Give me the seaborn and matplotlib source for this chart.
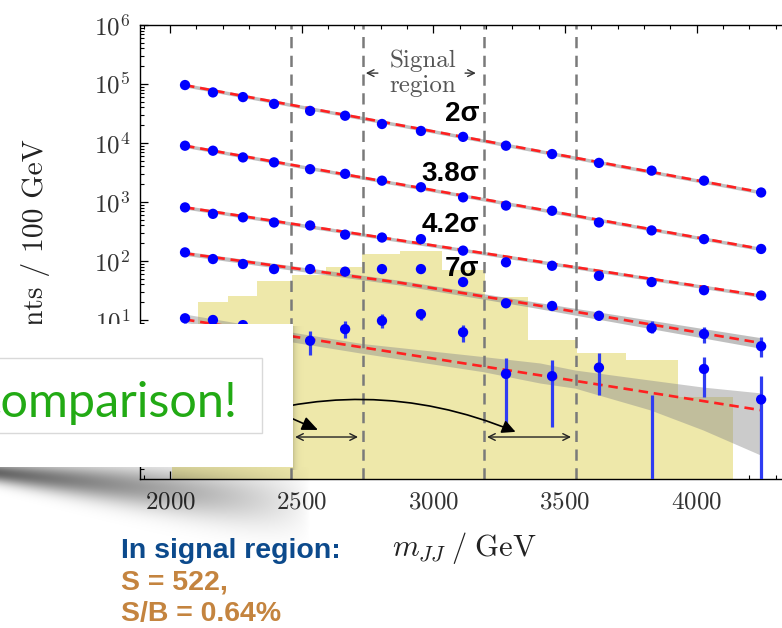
import numpy as np
import pandas as pd
import matplotlib
matplotlib.use("Agg")
import matplotlib.pyplot as plt
import seaborn as sns
from matplotlib.patches import Rectangle, FancyArrowPatch
from matplotlib.ticker import MultipleLocator, LogLocator, NullFormatter, LogFormatterSciNotation

# ---------------------------------------------------------------- data
# dijet invariant-mass bin centres (GeV)
mjj = [2057, 2163, 2277, 2395, 2532, 2665, 2805, 2953, 3113, 3276, 3451, 3629, 3829, 4028, 4245]

# injected signal template (stepped histogram)
sig_edges = [2008, 2106, 2220, 2330, 2463, 2592, 2729, 2874, 3033, 3196, 3360, 3546, 3732, 3929, 4138]
sig_counts = [6, 20.5, 26, 45, 57, 79, 134, 145, 70, 25, 4.6, 2.8, 2.1, 0.49]

# sideband / signal-region boundaries
region_edges = [2458, 2733, 3193, 3540]

# pseudo-data for the different signal strengths
ev_2sig = [9.6e4, 7.2e4, 6.0e4, 4.6e4, 3.5e4, 2.9e4, 2.1e4, 1.6e4, 1.27e4, 9.0e3, 6.5e3, 4.6e3, 3.4e3, 2.3e3, 1.45e3]
ev_38sig = [9.0e3, 7.4e3, 5.7e3, 4.7e3, 3.6e3, 3.0e3, 2.3e3, 1.78e3, 1.2e3, 870, 710, 450, 330, 235, 160]
ev_42sig = [810, 630, 550, 450, 400, 280, 250, 235, 150, 95, 83, 56, 44, 32, 26]
ev_7sig = [140, 108, 89, 73, 73, 66, 73, 73, 44, 19.2, 17.3, 11.8, 7.3, 5.8, 3.6]
ev_7sig_lo = [140, 108, 89, 73, 73, 66, 73, 73, 44, 19.2, 17.3, 10.2, 5.96, 4.07, 2.39]
ev_7sig_hi = [140, 108, 89, 73, 73, 66, 73, 73, 44, 19.2, 17.3, 13.8, 9.7, 7.7, 5.2]
ev_low = [10.7, 10.0, 8.2, 7.0, 4.45, 7.0, 9.7, 12.6, 6.2, 1.22, 1.12, 1.56, 0, 1.48, 0.45]
ev_low_lo = [9.0, 8.5, 8.2, 7.0, 2.55, 4.9, 7.2, 10.0, 4.3, 0.166, 0.155, 0.54, 0, 0.50, 0]
ev_low_hi = [12.5, 12.0, 8.2, 7.0, 6.6, 9.7, 12.6, 15.5, 8.2, 2.24, 2.1, 2.73, 0.536, 2.39, 1.12]

# background fits evaluated at a few masses
fit_x = [2057, 2873, 3367, 4245]
fit_2sig = [9.55e4, 2.01e4, 7.8e3, 1.46e3]
fit_38sig = [9.0e3, 2.0e3, 805, 160]
fit_42sig = [813, 224, 103, 25.8]
fit_7sig = [135, 42.9, 18.6, 4.07]
fit_low = [10.2, 2.73, 1.23, 0.296]
# fit uncertainty (half width in dex)
fit_hw_narrow = [0.03, 0.03, 0.03, 0.03]
fit_hw_7sig = [0.035, 0.04, 0.05, 0.09]
# wider uncertainty band of the lowest fit
band_x = [2057, 2456, 2729, 3189, 3405, 3538, 3823, 4024, 4245]
band_low_hi = [12.6, 6.3, 4.0, 2.4, 1.87, 1.42, 0.96, 0.73, 0.58]
band_low_lo = [9.1, 4.3, 2.73, 1.33, 0.855, 0.70, 0.30, 0.137, 0.051]

sigma_labels = ["2σ", "3.8σ", "4.2σ", "7σ"]
sigma_label_y = [3.1e4, 2.99e3, 4.07e2, 73]

# ---------------------------------------------------------------- style
sns.set_theme(style="ticks")
plt.rcParams.update({
    "font.family": ["cmr10", "DejaVu Serif"],
    "mathtext.fontset": "cm",
    "axes.formatter.use_mathtext": True,
    "axes.unicode_minus": False,
    "xtick.direction": "in",
    "ytick.direction": "in",
    "xtick.top": True,
    "ytick.right": False,
    "xtick.major.size": 6, "ytick.major.size": 6,
    "xtick.minor.size": 3, "ytick.minor.size": 3,
    "xtick.major.width": 0.9, "ytick.major.width": 0.9,
    "xtick.minor.width": 0.8, "ytick.minor.width": 0.8,
    "xtick.color": "black", "ytick.color": "black",
    "xtick.labelcolor": "#333333", "ytick.labelcolor": "#333333",
    "axes.edgecolor": "black",
    "axes.linewidth": 1.0,
})

W_PX, H_PX = 782, 628
fig = plt.figure(figsize=(W_PX / 100, H_PX / 100), dpi=100)
fig.patch.set_facecolor("white")
ax = fig.add_axes([140 / W_PX, 149 / H_PX, 660 / W_PX, 454 / H_PX])
ax.set_facecolor("white")
ax.set_yscale("log")
ax.set_xlim(1886, 4392.6)
ax.set_ylim(0.0202, 1e6)
ax.spines["right"].set_visible(False)

# signal template
ax.stairs(sig_counts, sig_edges, baseline=1e-3, fill=True, color="#eee8aa", zorder=1)

# uncertainty bands
band_grey = (0.55, 0.55, 0.55)
for vals, hw in [(fit_2sig, fit_hw_narrow), (fit_38sig, fit_hw_narrow),
                 (fit_42sig, fit_hw_narrow), (fit_7sig, fit_hw_7sig)]:
    v = np.array(vals)
    h = np.array(hw)
    ax.fill_between(fit_x, v * 10 ** (-h), v * 10 ** h, color=band_grey, alpha=0.55,
                    lw=0, zorder=2)
ax.fill_between(band_x, band_low_lo, band_low_hi, color=band_grey, alpha=0.45, lw=0, zorder=2)

# region boundaries
for e in region_edges:
    ax.axvline(e, color="#7a7a7a", lw=1.8, linestyle=(0, (4.5, 3.0)), zorder=2.5)

# fits
for vals in [fit_2sig, fit_38sig, fit_42sig, fit_7sig, fit_low]:
    sns.lineplot(x=fit_x, y=vals, ax=ax, color="#ff2020", lw=1.9,
                 linestyle=(0, (3.6, 2.2)), zorder=3)

# error bars
for vals, lo, hi in [(ev_7sig, ev_7sig_lo, ev_7sig_hi), (ev_low, ev_low_lo, ev_low_hi)]:
    v = np.array(vals, dtype=float)
    yerr = [v - np.array(lo), np.array(hi) - v]
    ax.errorbar(mjj, v, yerr=yerr, fmt="none", ecolor="#2f3cf2", elinewidth=2.3,
                capsize=0, zorder=3.5)

# data points
for vals in [ev_2sig, ev_38sig, ev_42sig, ev_7sig, ev_low]:
    df = pd.DataFrame({"mjj": mjj, "events": vals})
    df = df[df["events"] > 0]
    sns.scatterplot(data=df, x="mjj", y="events", ax=ax, color="#0000ff", s=55,
                    edgecolor="none", linewidth=0, zorder=4)

# ticks
sci = LogFormatterSciNotation()


def decade_label(v, pos):
    # decades below ten sit under the inset panel
    return sci(v, pos) if v >= 10 else ""


ax.xaxis.set_major_locator(MultipleLocator(500))
ax.xaxis.set_minor_locator(MultipleLocator(100))
ax.yaxis.set_major_locator(LogLocator(base=10, numticks=20))
ax.yaxis.set_major_formatter(plt.FuncFormatter(decade_label))
ax.yaxis.set_minor_locator(LogLocator(base=10, subs=np.arange(2, 10), numticks=20))
ax.yaxis.set_minor_formatter(NullFormatter())
ax.tick_params(axis="both", which="major", labelsize=18)
ax.tick_params(axis="x", which="major", pad=9)
ax.tick_params(axis="y", which="major", pad=7)

ax.set_xlabel(r"$m_{JJ}\;/\;\mathrm{GeV}$", fontsize=22, color="#222222")
ax.xaxis.set_label_coords(0.492, -0.112)
ax.set_ylabel("Events / 100 GeV", fontsize=21.3, color="#222222")
ax.yaxis.set_label_coords(-0.136, 0.489)

# signal region caption
ax.text(2961, 1.53e5, "Signal\nregion", ha="center", va="center", fontsize=18,
        color="#555555", linespacing=1.2, zorder=5)
ax.annotate("", xy=(2733, 1.53e5), xytext=(2800, 1.53e5),
            arrowprops=dict(arrowstyle="->", color="#333333", lw=1.0), zorder=5)
ax.annotate("", xy=(3172, 1.53e5), xytext=(3110, 1.53e5),
            arrowprops=dict(arrowstyle="->", color="#333333", lw=1.0), zorder=5)

# significance labels
for lab, yv in zip(sigma_labels, sigma_label_y):
    ax.text(3175, yv, lab, ha="right", va="center", fontsize=20, fontweight="bold",
            family=["Liberation Sans", "DejaVu Sans"], color="black", zorder=6)

# sideband arrows
for x0, x1 in [(2475, 2714), (3204, 3523)]:
    ax.annotate("", xy=(x1, 0.104), xytext=(x0, 0.104),
                arrowprops=dict(arrowstyle="<->", color="#222222", lw=1.0,
                                shrinkA=0, shrinkB=0), zorder=5)
arc = FancyArrowPatch((2152, 0.148), (3322, 0.122), connectionstyle="arc3,rad=-0.2",
                      arrowstyle="-|>,head_length=8,head_width=4", color="black",
                      lw=1.2, mutation_scale=1, zorder=5)
ax.add_patch(arc)
ax.annotate("", xy=(2562, 0.137), xytext=(2304, 0.44),
            arrowprops=dict(arrowstyle="-|>,head_length=0.8,head_width=0.35",
                            color="black", lw=1.2, shrinkA=0, shrinkB=0), zorder=5)

# ---------------------------------------------------------------- overlay panel
ov = fig.add_axes([0, 0, 1, 1], zorder=10)
ov.set_xlim(0, W_PX)
ov.set_ylim(H_PX, 0)
ov.axis("off")
ov.patch.set_alpha(0)

yy, xx = np.mgrid[320:550, 0:340] + 0.5
yc = 473 + 0.10 * xx
sg = 7 + 0.05 * xx
amp = 0.60 * np.clip(1 - xx / 310, 0, 1) ** 0.7
alpha = amp * np.exp(-0.5 * ((yy - yc) / sg) ** 2)
alpha = np.where(yy < 467, 0, alpha)
side = 0.18 * np.exp(-(xx - 293) / 3.0) * ((xx >= 293) & (yy > 326) & (yy < 470))
alpha = np.maximum(alpha, side)
rgba = np.zeros(alpha.shape + (4,))
rgba[..., 3] = alpha
ov.imshow(rgba, extent=(0, 340, 550, 320), interpolation="bilinear", aspect="auto", zorder=1)
ov.set_xlim(0, W_PX)
ov.set_ylim(H_PX, 0)

ov.add_patch(Rectangle((-10, 324), 303, 143, facecolor="white", edgecolor="none", zorder=2))
ov.add_patch(Rectangle((-10, 358), 272, 75, facecolor="white", edgecolor="#d9d9d9",
                       lw=1.0, zorder=3))
ov.text(238, 417, "Comparison!", ha="right", va="baseline", fontsize=35,
        family=["Lato", "DejaVu Sans"], color="#22aa14", zorder=4)

# summary below the plot
txt_kw = dict(ha="left", va="center", fontsize=20.5, fontweight="bold",
              family=["Liberation Sans", "DejaVu Sans"])
ov.text(121, 551, "In signal region:", color="#0c4a8c", **txt_kw)
ov.text(121, 583, "S = 522,", color="#c4843f", **txt_kw)
ov.text(121, 614, "S/B = 0.64%", color="#c4843f", **txt_kw)

fig.savefig("out.png", dpi=100, facecolor="white")
